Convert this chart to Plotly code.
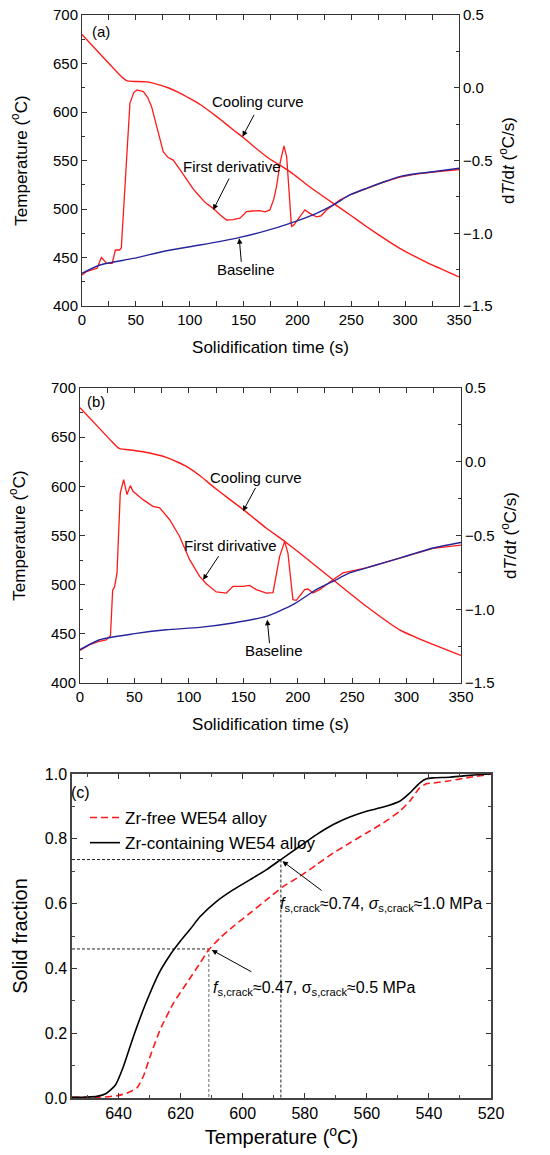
import plotly.graph_objects as go

# ---- panel (a): Zr-free alloy ----
a_cool_t = [0, 38, 42, 48, 60, 70, 80, 90, 100, 110, 120, 130, 140, 150, 160, 175, 187, 195,
            210, 233, 250, 264, 280, 295, 320, 350]
a_cool_T = [680, 635, 632, 631.5, 631, 628.5, 625, 620, 614, 607.5, 599.5, 591, 582, 573.5,
            564, 551, 543, 537, 524, 506, 493, 482, 470, 459.5, 445, 430]

a_deriv_t = [0, 4, 14, 18, 23, 28, 31, 35, 36.5, 41, 44.5, 48, 51, 57, 61, 64.6, 69.3, 75.4,
             80, 84.7, 90, 97, 103, 109.5, 115, 121.8, 128, 134.2, 140, 146.6, 152.8, 158,
             165, 170, 174.4, 178, 180.6, 184, 187.5, 190, 192, 194.5, 197, 200, 206.9,
             211.5, 217.7, 222, 227, 233, 239.3, 248.6, 264, 280, 295, 310, 326, 350]
a_deriv_v = [-1.287, -1.264, -1.241, -1.167, -1.207, -1.207, -1.115, -1.115, -1.1, -0.543,
             -0.107, -0.033, -0.015, -0.027, -0.067, -0.130, -0.267, -0.44, -0.48, -0.497,
             -0.553, -0.633, -0.693, -0.749, -0.793, -0.829, -0.873, -0.909, -0.907, -0.897,
             -0.851, -0.847, -0.845, -0.853, -0.84, -0.767, -0.68, -0.513, -0.4, -0.473,
             -0.7, -0.955, -0.94, -0.907, -0.84, -0.863, -0.887, -0.88, -0.84, -0.807,
             -0.771, -0.737, -0.691, -0.648, -0.615, -0.594, -0.579, -0.562]

a_base_t = [0, 16.7, 47.6, 78.5, 109.5, 146.6, 171.3, 193, 217.7, 233, 248.6, 264, 280, 295,
            310, 326, 350]
a_base_v = [-1.275, -1.218, -1.173, -1.12, -1.081, -1.028, -0.982, -0.932, -0.863, -0.807,
            -0.737, -0.691, -0.648, -0.611, -0.591, -0.577, -0.553]

# ---- panel (b): Zr-containing alloy ----
b_cool_t = [0, 28, 33.4, 36.4, 50, 64, 79.3, 90, 97.7, 110, 122, 136, 150, 171, 188, 201.8,
            232.4, 263, 293.6, 320, 350]
b_cool_T = [680, 647, 640.7, 638.3, 636.5, 633.9, 629.5, 624.5, 620.3, 611, 600, 588, 576.3,
            557.6, 544, 532.2, 505, 478, 454, 441, 428]

b_deriv_t = [0, 8.9, 18, 24, 28, 30, 31.8, 34, 37, 40.1, 43.2, 46.2, 48.7, 57.9, 67, 73.2,
             82.4, 91.5, 100.7, 109.9, 116, 125.2, 134.4, 140.5, 149.7, 155.8, 162, 171.2,
             177.3, 183.4, 188, 191, 195.6, 198.7, 206.4, 209.4, 214, 220.2, 232.4, 241.6,
             263, 278, 293.6, 309, 324.3, 350]
b_deriv_v = [-1.279, -1.24, -1.217, -1.207, -1.18, -0.87, -0.847, -0.754, -0.213, -0.121,
             -0.223, -0.162, -0.2, -0.257, -0.302, -0.313, -0.393, -0.507, -0.664, -0.777,
             -0.827, -0.883, -0.89, -0.845, -0.845, -0.838, -0.867, -0.89, -0.887, -0.641,
             -0.54, -0.619, -0.935, -0.94, -0.867, -0.863, -0.89, -0.867, -0.8, -0.754,
             -0.72, -0.687, -0.653, -0.62, -0.587, -0.565]

b_base_t = [0, 18, 48.7, 79.3, 109.9, 140.5, 171.2, 195.6, 217, 232.4, 247.7, 263, 278,
            293.6, 309, 324.3, 350]
b_base_v = [-1.274, -1.207, -1.167, -1.139, -1.123, -1.093, -1.048, -0.969, -0.867, -0.811,
            -0.754, -0.72, -0.687, -0.653, -0.618, -0.585, -0.547]

# ---- panel (c): solid fraction vs temperature ----
free_T = [655, 646, 640.5, 637.3, 634.1, 632, 629.8, 626.6, 622.3, 618, 613.7, 610.9, 607.3,
          603, 597.6, 592.3, 586.9, 581.6, 576.2, 570.8, 565.5, 560.1, 554.7, 549.4, 546.2,
          543, 540.8, 538.7, 533.3, 528, 520]
free_fs = [0.002, 0.002, 0.007, 0.015, 0.031, 0.067, 0.129, 0.211, 0.293, 0.355, 0.417, 0.458,
           0.494, 0.53, 0.571, 0.612, 0.653, 0.684, 0.72, 0.756, 0.787, 0.818, 0.849, 0.885,
           0.916, 0.957, 0.97, 0.972, 0.979, 0.988, 1.0]

zr_T = [655, 650, 647, 644, 641, 638.4, 635.2, 630.9, 627, 623.5, 620, 617, 613.7, 608.4, 603,
        597.6, 592.3, 587.7, 581.6, 576.2, 570.8, 565.5, 560.1, 554.7, 549.4, 546.2, 543,
        540.8, 538.7, 533.3, 528, 520]
zr_fs = [0.002, 0.003, 0.005, 0.014, 0.04, 0.098, 0.19, 0.30, 0.385, 0.44, 0.485, 0.52, 0.56,
         0.607, 0.643, 0.674, 0.705, 0.736, 0.777, 0.813, 0.844, 0.867, 0.885, 0.898, 0.916,
         0.941, 0.972, 0.985, 0.988, 0.99, 0.995, 1.0]

crack_T = [610.9, 587.7]
crack_fs = [0.46, 0.736]

RED = '#ff1a1a'
BLUE = '#26269c'
FONT = 'Liberation Sans'
W, H = 550, 1155


def px_x(p):
    return p / W


def px_y(p):
    return 1 - p / H


fig = go.Figure()

# panel (a)
fig.add_trace(go.Scatter(x=a_cool_t, y=a_cool_T, mode='lines', line=dict(color=RED, width=1.4, shape='spline', smoothing=0.4),
                         xaxis='x', yaxis='y', showlegend=False))
fig.add_trace(go.Scatter(x=a_deriv_t, y=a_deriv_v, mode='lines', line=dict(color=RED, width=1.3),
                         xaxis='x', yaxis='y2', showlegend=False))
fig.add_trace(go.Scatter(x=a_base_t, y=a_base_v, mode='lines', line=dict(color=BLUE, width=1.4, shape='spline', smoothing=0.6),
                         xaxis='x', yaxis='y2', showlegend=False))

# panel (b)
fig.add_trace(go.Scatter(x=b_cool_t, y=b_cool_T, mode='lines', line=dict(color=RED, width=1.4, shape='spline', smoothing=0.4),
                         xaxis='x2', yaxis='y3', showlegend=False))
fig.add_trace(go.Scatter(x=b_deriv_t, y=b_deriv_v, mode='lines', line=dict(color=RED, width=1.3),
                         xaxis='x2', yaxis='y4', showlegend=False))
fig.add_trace(go.Scatter(x=b_base_t, y=b_base_v, mode='lines', line=dict(color=BLUE, width=1.4, shape='spline', smoothing=0.6),
                         xaxis='x2', yaxis='y4', showlegend=False))

# panel (c) guide lines
for T, fs, col in zip(crack_T, crack_fs, ['#666666', '#222222']):
    fig.add_trace(go.Scatter(x=[655, T], y=[fs, fs], mode='lines', line=dict(color='#222222', width=1, dash='3px,2px'),
                             xaxis='x3', yaxis='y5', showlegend=False))
    fig.add_trace(go.Scatter(x=[T, T], y=[fs, 0], mode='lines', line=dict(color=col, width=1, dash='3px,2px'),
                             xaxis='x3', yaxis='y5', showlegend=False))

fig.add_trace(go.Scatter(x=free_T, y=free_fs, mode='lines', name='Zr-free WE54 alloy',
                         line=dict(color=RED, width=1.6, dash='7px,4px', shape='spline', smoothing=0.5),
                         xaxis='x3', yaxis='y5'))
fig.add_trace(go.Scatter(x=zr_T, y=zr_fs, mode='lines', name='Zr-containing WE54 alloy',
                         line=dict(color='black', width=1.6, shape='spline', smoothing=0.5),
                         xaxis='x3', yaxis='y5'))

tick_font = dict(family=FONT, size=15, color='black')
title_font = dict(family=FONT, size=17, color='black')
line_style = dict(showline=True, linecolor='#333333', linewidth=1, ticks='inside', ticklen=5,
                  tickcolor='#333333', showgrid=False, zeroline=False, automargin=False,
                  ticklabeloverflow='allow')


def time_axis(domain, anchor):
    return dict(domain=domain, anchor=anchor, range=[0, 350], dtick=50, mirror='allticks',
                minor=dict(ticks='inside', ticklen=3, dtick=25, tickcolor='#333333'),
                tickfont=tick_font, title=dict(text='Solidification time (s)', font=title_font, standoff=14),
                **line_style)


def temp_axis(domain, anchor):
    return dict(domain=domain, anchor=anchor, range=[400, 700], dtick=50,
                minor=dict(ticks='inside', ticklen=3, dtick=25, tickcolor='#333333'),
                tickfont=tick_font, title=dict(text='Temperature (<sup>o</sup>C)', font=title_font, standoff=21),
                **line_style)


def rate_axis(overlay, anchor):
    return dict(overlaying=overlay, anchor=anchor, side='right', range=[-1.5, 0.5], dtick=0.5,
                tickformat='.1f',
                minor=dict(ticks='inside', ticklen=3, dtick=0.25, tickcolor='#333333'),
                tickfont=tick_font,
                title=dict(text='d<i>T</i>/d<i>t</i> (<sup>o</sup>C/s)', font=title_font, standoff=10),
                **line_style)


dom_a_x = [px_x(82), px_x(459)]
dom_a_y = [px_y(306), px_y(15)]
dom_b_x = [px_x(80), px_x(461)]
dom_b_y = [px_y(683), px_y(388)]
dom_c_x = [px_x(72), px_x(491)]
dom_c_y = [px_y(1098), px_y(774)]

c_tick = dict(family=FONT, size=16, color='black')
c_title = dict(family=FONT, size=20, color='black')
c_line = dict(line_style, linewidth=1.5, linecolor='#444444')

fig.update_layout(
    width=W, height=H,
    margin=dict(l=0, r=0, t=0, b=0),
    paper_bgcolor='white', plot_bgcolor='white',
    font=dict(family=FONT, color='black'),
    xaxis=time_axis(dom_a_x, 'y'),
    yaxis=temp_axis(dom_a_y, 'x'),
    yaxis2=rate_axis('y', 'x'),
    xaxis2=time_axis(dom_b_x, 'y3'),
    yaxis3=temp_axis(dom_b_y, 'x2'),
    yaxis4=rate_axis('y3', 'x2'),
    xaxis3=dict(domain=dom_c_x, anchor='y5', range=[655, 520], dtick=20, mirror='allticks',
                minor=dict(ticks='inside', ticklen=3, dtick=10, tickcolor='#444444'),
                tickfont=c_tick, title=dict(text='Temperature (<sup>o</sup>C)', font=c_title, standoff=9),
                **c_line),
    yaxis5=dict(domain=dom_c_y, anchor='x3', range=[0, 1], dtick=0.2, tickformat='.1f', mirror='allticks',
                minor=dict(ticks='inside', ticklen=3, dtick=0.1, tickcolor='#444444'),
                tickfont=c_tick, title=dict(text='Solid fraction', font=c_title, standoff=12),
                **c_line),
    legend=dict(x=px_x(85), y=px_y(800), xanchor='left', yanchor='top', bgcolor='rgba(0,0,0,0)',
                font=dict(family=FONT, size=17, color='black'), tracegroupgap=0, itemwidth=30),
)

ann_font = dict(family=FONT, size=15, color='black')
anns = []


def label(text, x, y, xr, yr, font=ann_font, xanchor='center'):
    anns.append(dict(text=text, x=x, y=y, xref=xr, yref=yr, showarrow=False, font=font, xanchor=xanchor))


def arrow(head, tail, xr, yr):
    anns.append(dict(text='', x=head[0], y=head[1], ax=tail[0], ay=tail[1], xref=xr, yref=yr,
                     axref=xr, ayref=yr, showarrow=True, arrowhead=2, arrowsize=1.1, arrowwidth=1,
                     arrowcolor='black'))


# panel (a) labels
label('(a)', 18, 683, 'x', 'y')
label('Cooling curve', 163.6, 610.7, 'x', 'y')
label('First derivative', 139.5, 544.3, 'x', 'y')
label('Baseline', 151.8, 437.8, 'x', 'y')
arrow((149, 574.6), (160.5, 598.6), 'x', 'y')
arrow((121.8, 499), (137.3, 533), 'x', 'y')
arrow((146, 469.8), (148, 444), 'x', 'y')

# panel (b) labels
label('(b)', 14.7, 685.8, 'x2', 'y3')
label('Cooling curve', 161.4, 608.5, 'x2', 'y3')
label('First dirivative', 138.7, 540, 'x2', 'y3')
label('Baseline', 177.9, 433.2, 'x2', 'y3')
arrow((149.7, 574.6), (162, 600), 'x2', 'y3')
arrow((113, 505), (128.3, 530.5), 'x2', 'y3')
arrow((172, 464.4), (174.2, 439), 'x2', 'y3')

# panel (c) labels
c_font = dict(family=FONT, size=16, color='black')
label('(c)', 652.4, 0.944, 'x3', 'y5', font=c_font)
label('<i>f</i><sub>s,crack</sub>\u22480.74, <i>\u03c3</i><sub>s,crack</sub>\u22481.0 MPa', 588.7, 0.596,
      'x3', 'y5', font=c_font, xanchor='left')
label('<i>f</i><sub>s,crack</sub>\u22480.47, \u03c3<sub>s,crack</sub>\u22480.5 MPa', 610.3, 0.339,
      'x3', 'y5', font=c_font, xanchor='left')
arrow((587.2, 0.731), (574.1, 0.637), 'x3', 'y5')
arrow((610, 0.457), (596.7, 0.387), 'x3', 'y5')

fig.update_layout(annotations=anns)

# drop the default page margin so the figure sits at the window's corner
fig.write_html('out.html', config={'displayModeBar': False},
               post_script="document.body.style.margin = '0';")
